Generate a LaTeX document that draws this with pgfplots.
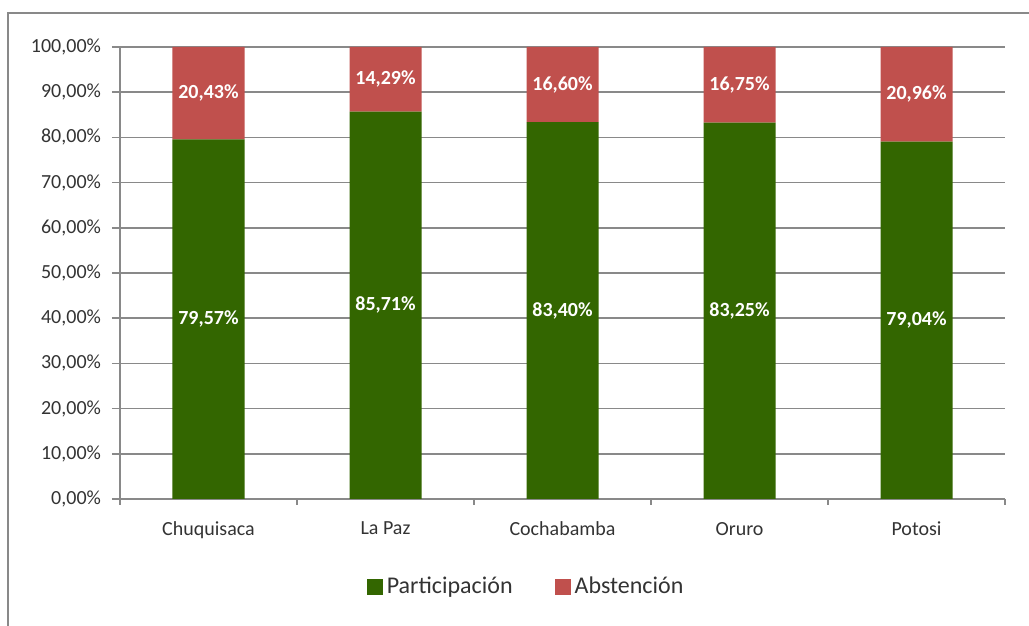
\documentclass[border=0pt]{standalone}
\usepackage{fontspec}
\setmainfont{Carlito}
\usepackage{pgfplots}
\pgfplotsset{compat=1.18}
\definecolor{partgreen}{HTML}{336600}
\definecolor{absred}{HTML}{C0504D}
\definecolor{gridgray}{HTML}{898989}
\definecolor{txt}{HTML}{333333}
\begin{document}
\begin{tikzpicture}
\useasboundingbox (0,0) rectangle (514.5pt,313pt);
\draw[gridgray, line width=1.1pt] (4pt,0pt) -- (4pt,306.5pt) -- (520pt,306.5pt);
\pgfplotsset{
  mybase/.style={
    scale only axis, width=442.5pt, height=226pt,
    at={(60pt,63.5pt)}, anchor=south west,
    xmin=-0.5, xmax=4.5, ymin=0, ymax=100,
  }
}
\begin{axis}[mybase,
  ybar stacked, bar width=36pt,
  /pgf/number format/assume math mode=true,
  axis x line*=bottom, axis y line*=left,
  axis line style={gridgray, line width=0.8pt},
  ytick={0,10,...,100},
  yticklabel={\pgfmathprintnumber[fixed,fixed zerofill,precision=2,use comma]{\tick}\%},
  yticklabel style={font=\fontsize{10}{12}\selectfont, text=txt, xshift=-2pt},
  ymajorgrids, grid style={gridgray, line width=0.8pt},
  tick style={gridgray, line width=0.8pt},
  tick align=outside, major tick length=4pt,
  xtick={0,1,2,3,4},
  xticklabels={Chuquisaca,La Paz,Cochabamba,Oruro,Potosi},
  x tick style={draw=none},
  minor xtick={-0.5,0.5,1.5,2.5,3.5,4.5},
  minor x tick style={draw=gridgray, line width=0.8pt},
  minor tick length=3pt,
  xticklabel style={font=\fontsize{10}{12}\selectfont, text=txt, yshift=-4pt},
  legend style={at={(0.46,-0.195)}, anchor=center, draw=none, fill=none,
    legend columns=2, font=\fontsize{12}{14}\selectfont, text=txt,
    /tikz/every even column/.append style={column sep=19pt}},
  legend cell align=left,
  legend image code/.code={\fill[#1] (0pt,-4pt) rectangle (8pt,4pt);},
]
\addplot[fill=partgreen, draw=none] coordinates {(0,79.57) (1,85.71) (2,83.40) (3,83.25) (4,79.04)};
\addlegendentry{Participación}
\addplot[fill=absred, draw=none] coordinates {(0,20.43) (1,14.29) (2,16.60) (3,16.75) (4,20.96)};
\addlegendentry{Abstención}
\end{axis}
\begin{axis}[mybase, hide axis,
  /pgf/number format/assume math mode=true]
\addplot[draw=none, mark=none, point meta=explicit,
  nodes near coords={\pgfmathprintnumber[fixed,fixed zerofill,precision=2,use comma]{\pgfplotspointmeta}\%},
  every node near coord/.style={anchor=center, text=white, font=\bfseries\fontsize{10}{12}\selectfont}]
  table[x=x, y=y, meta=v] {
x y v
0 39.785 79.57
1 42.855 85.71
2 41.70 83.40
3 41.625 83.25
4 39.52 79.04
0 89.785 20.43
1 92.855 14.29
2 91.70 16.60
3 91.625 16.75
4 89.52 20.96
};
\end{axis}
\end{tikzpicture}
\end{document}
